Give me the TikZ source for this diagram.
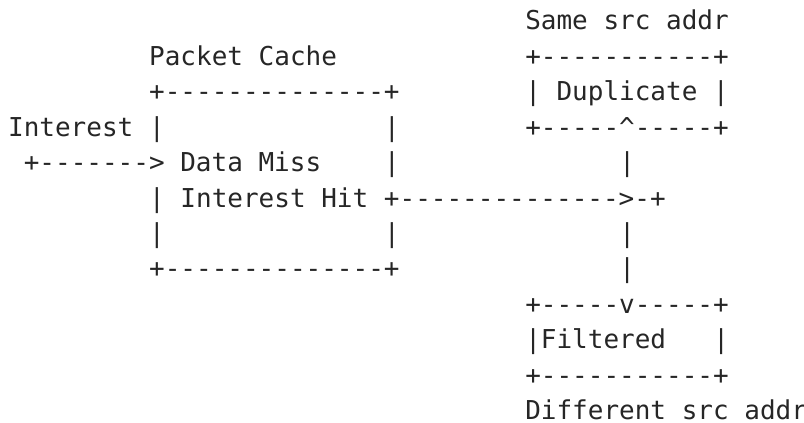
\documentclass[tikz,border=0pt]{standalone}
\usepackage{fontspec}
\setmonofont{DejaVu Sans Mono}
\tikzset{ascii/.style={anchor=base west, inner sep=0pt, outer sep=0pt, text=black!85,
  font=\ttfamily\fontsize{13}{15}\selectfont}}
\begin{document}
\begin{tikzpicture}[x=7.835pt,y=17.7pt]
\useasboundingbox (-4.07pt,15pt) rectangle (397.93pt,-196.5pt);
% duplicate box
\node[ascii] (samelbl) at (33,0) {Same src addr};
\node[ascii] (duptop) at (33,-1) {+-----------+};
\node[ascii] (dupmid) at (33,-2) {| Duplicate |};
\node[ascii] (dupbot) at (33,-3) {+-----\textasciicircum-----+};
% packet cache box
\node[ascii] (cachelbl) at (9,-1) {Packet Cache};
\node[ascii] (cachetop) at (9,-2) {+--------------+};
\node[ascii] (inlbl) at (0,-3) {Interest |};
\node[ascii] (cachera) at (24,-3) {|};
\node[ascii] (inarrow) at (1,-4) {+-------> Data Miss};
\node[ascii] (cacherb) at (24,-4) {|};
\node[ascii] (hitline) at (9,-5) {| Interest Hit +-------------->-+};
\node[ascii] (cachelc) at (9,-6) {|};
\node[ascii] (cacherc) at (24,-6) {|};
\node[ascii] (cachebot) at (9,-7) {+--------------+};
% vertical link
\node[ascii] (upline) at (39,-4) {|};
\node[ascii] (downa) at (39,-6) {|};
\node[ascii] (downb) at (39,-7) {|};
% filtered box
\node[ascii] (filtop) at (33,-8) {+-----v-----+};
\node[ascii] (filmid) at (33,-9) {|Filtered};
\node[ascii] (filr) at (45,-9) {|};
\node[ascii] (filbot) at (33,-10) {+-----------+};
\node[ascii] (difflbl) at (33,-11) {Different src addr};
\end{tikzpicture}
\end{document}
